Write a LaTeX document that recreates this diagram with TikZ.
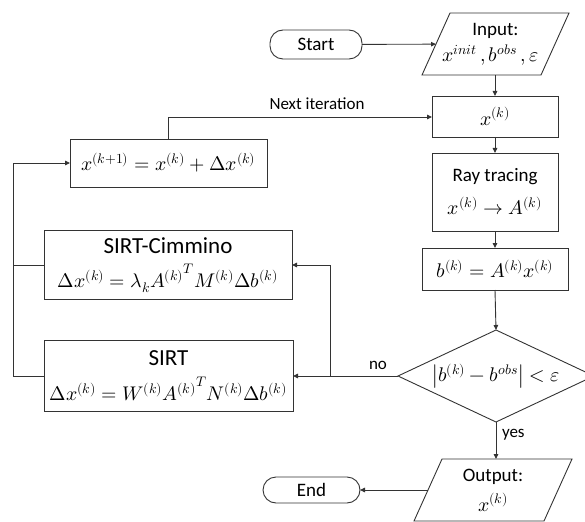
\documentclass[tikz,border=0pt]{standalone}
\usepackage{unicode-math}
\setmainfont{Carlito}
\setmathfont{Latin Modern Math}[Scale=1.04]
\usetikzlibrary{arrows.meta}
\begin{document}
\begin{tikzpicture}[x=1pt,y=-1pt,
  every node/.style={inner sep=0pt, outer sep=0pt},
  ln/.style={draw=black!80, line width=0.9pt},
  arr/.style={ln, -{Triangle[length=5pt,width=4.5pt]}},
  box/.style={draw=black!80, line width=0.9pt, rectangle, align=center, font=\fontsize{19}{23}\selectfont},
  term/.style={box, rounded corners=13pt},
  plain/.style={rectangle, align=center, font=\fontsize{19}{23}\selectfont},
  lbl/.style={font=\fontsize{17}{20}\selectfont}
]
\useasboundingbox (0,0) rectangle (585,521);
% terminals
\node[term, minimum width=92pt, minimum height=29pt] (start) at (316,44.5) {Start};
\node[term, minimum width=97pt, minimum height=26pt] (end) at (311.5,490) {End};
% input / output parallelograms
\node[plain, minimum width=119pt, minimum height=62pt] (in) at (495.5,44) {Input:\\[3pt] \hspace*{-10pt}$x^{init}\,, b^{obs}\,, \varepsilon$};
\draw[ln] ([xshift=14pt]in.north west) -- ([xshift=14pt]in.north east) -- ([xshift=-14pt]in.south east) -- ([xshift=-14pt]in.south west) -- cycle;
\node[plain, minimum width=130pt, minimum height=62pt] (out) at (493,490) {Output:\\[7pt] $x^{(k)}$};
\draw[ln] ([xshift=14pt]out.north west) -- ([xshift=14pt]out.north east) -- ([xshift=-14pt]out.south east) -- ([xshift=-14pt]out.south west) -- cycle;
% process boxes
\node[box, minimum width=126pt, minimum height=41pt] (xk) at (495,116.5) {$x^{(k)}$};
\node[box, minimum width=126pt, minimum height=78pt] (ray) at (495,192) {Ray tracing\\[10pt] $x^{(k)} \to A^{(k)}$};
\node[box, minimum width=146pt, minimum height=42pt] (bk) at (495,269) {$b^{(k)} = A^{(k)}x^{(k)}$};
\node[box, minimum width=197pt, minimum height=48pt] (xk1) at (168.5,163) {$x^{(k+1)} = x^{(k)} + \Delta x^{(k)}$};
\node[box, minimum width=248pt, minimum height=69pt] (cim) at (168,265) {{\fontsize{23}{27}\selectfont SIRT-Cimmino}\\[9pt] $\Delta x^{(k)} = \lambda_k {A^{(k)}}^T M^{(k)} \Delta b^{(k)}$};
\node[box, minimum width=249pt, minimum height=71pt] (sirt) at (168.5,376) {{\fontsize{23}{27}\selectfont SIRT}\\[10pt] $\Delta x^{(k)} = W^{(k)} {A^{(k)}}^T N^{(k)} \Delta b^{(k)}$};
% decision
\node[plain, minimum width=196pt, minimum height=92pt] (dia) at (496,376) {$\bigl|b^{(k)} - b^{obs}\bigr| < \varepsilon$};
\draw[ln] (dia.north) -- (dia.east) -- (dia.south) -- (dia.west) -- cycle;
% connectors
\draw[arr] (start) -- (in);
\draw[arr] (in.south -| xk.north) -- (xk.north);
\draw[arr] (xk) -- (ray);
\draw[arr] (ray) -- (bk);
\draw[arr] (bk.south) -- (dia.north);
\draw[arr] (dia.south) -- (dia.south |- out.north);
\node[lbl, anchor=west] (yes) at (502,435) {yes};
\draw[arr] (out.west) -- (end.east);
\draw[arr] (dia.west) -- (sirt.east);
\node[lbl] (no) at (378,365) {no};
\coordinate (jn) at (330,376);
\draw[arr] (jn) |- (cim.east);
\coordinate (loopx) at (13,0);
\draw[arr] (sirt.west) -- (sirt.west -| loopx) |- (xk1.west);
\draw[ln] (cim.west) -- (cim.west -| loopx);
\coordinate (nx) at (168.5,117);
\draw[arr] (xk1.north) -- (nx) -- (nx -| xk.west);
\node[lbl] (next) at (317,104) {Next iteration};
\end{tikzpicture}
\end{document}
